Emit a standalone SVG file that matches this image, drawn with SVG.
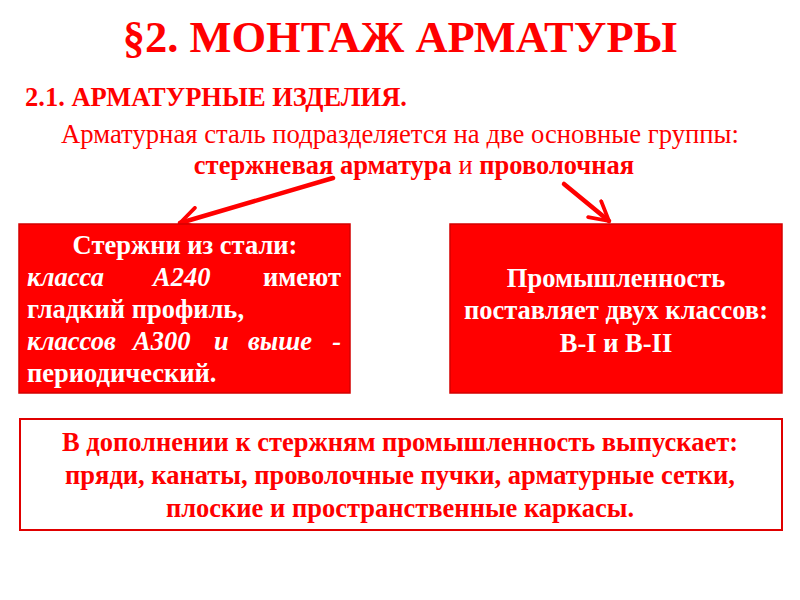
<svg xmlns="http://www.w3.org/2000/svg" width="800" height="600" viewBox="0 0 800 600">
<style>
text{font-family:"Liberation Serif","Times New Roman",serif;}
.red{fill:#ff0000;}
.wh{fill:#ffffff;font-weight:bold;font-size:26.5px;}
.b{font-weight:bold;}
.i{font-style:italic;}
.arrow{stroke:#ff0000;stroke-width:4.5;fill:none;stroke-linecap:round;}
</style>
<defs>
<marker id="ah" viewBox="0 0 12 12" refX="10" refY="6" markerWidth="5.5" markerHeight="5.5" orient="auto" markerUnits="strokeWidth">
<path d="M1,1 L10,6 L1,11" fill="none" stroke="#ff0000" stroke-width="1.8" stroke-linecap="round" stroke-linejoin="round"/>
</marker>
</defs>
<rect width="800" height="600" fill="#ffffff"/>
<g id="title">
<text x="400" y="52" text-anchor="middle" class="red b" font-size="44.5">§2. МОНТАЖ АРМАТУРЫ</text>
<text x="25" y="106" class="red b" font-size="26.5">2.1. АРМАТУРНЫЕ ИЗДЕЛИЯ.</text>
<text x="400" y="143" text-anchor="middle" class="red" font-size="26.7">Арматурная сталь подразделяется на две основные группы:</text>
<text x="414" y="174" text-anchor="middle" class="red" font-size="26.5"><tspan class="b">стержневая арматура</tspan> и <tspan class="b">проволочная</tspan></text>
</g>
<g id="connectors">
<line class="arrow" x1="333" y1="178" x2="180" y2="223" marker-end="url(#ah)"/>
<line class="arrow" x1="564" y1="184" x2="609" y2="221" marker-end="url(#ah)"/>
</g>
<g id="box-left">
<rect x="19" y="224" width="331" height="169" fill="#ff0000" stroke="#d40000" stroke-width="1.5"/>
<text x="185" y="254" text-anchor="middle" class="wh">Стержни из стали:</text>
<text y="286" class="wh"><tspan x="27" class="i">класса</tspan><tspan x="153" class="i">А240</tspan><tspan x="341" text-anchor="end">имеют</tspan></text>
<text x="27" y="318" class="wh">гладкий профиль,</text>
<text y="350" class="wh i"><tspan x="27">классов</tspan><tspan x="133">А300</tspan><tspan x="214">и</tspan><tspan x="248">выше</tspan><tspan x="341" text-anchor="end">-</tspan></text>
<text x="27" y="382" class="wh">периодический.</text>
</g>
<g id="box-right">
<rect x="450" y="224" width="332" height="169" fill="#ff0000" stroke="#d40000" stroke-width="1.5"/>
<text x="616" y="287" text-anchor="middle" class="wh">Промышленность</text>
<text x="616" y="319" text-anchor="middle" class="wh">поставляет двух классов:</text>
<text x="616" y="352" text-anchor="middle" class="wh">В-I и В-II</text>
</g>
<g id="box-bottom">
<rect x="20" y="419" width="762" height="111" fill="#ffffff" stroke="#e00000" stroke-width="2"/>
<text x="400" y="451" text-anchor="middle" class="red b" font-size="26.5">В дополнении к стержням промышленность выпускает:</text>
<text x="400" y="484" text-anchor="middle" class="red b" font-size="26.5">пряди, канаты, проволочные пучки, арматурные сетки,</text>
<text x="400" y="517" text-anchor="middle" class="red b" font-size="26.5">плоские и пространственные каркасы.</text>
</g>
</svg>
